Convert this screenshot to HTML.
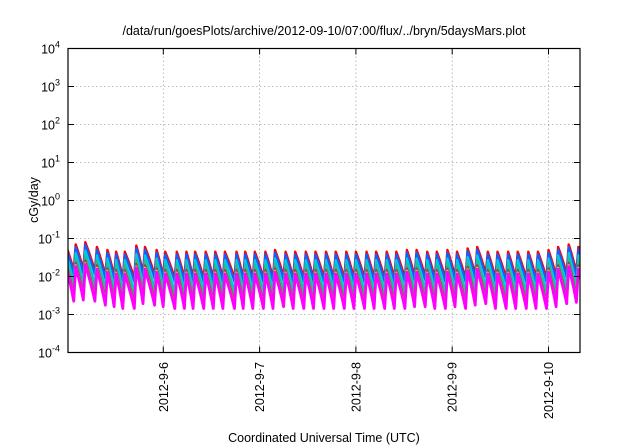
<!DOCTYPE html>
<html><head><meta charset="utf-8"><style>
body{margin:0;background:#fff;}
svg{display:block;font-family:"Liberation Sans",sans-serif;}
</style></head><body>
<svg id="chart" width="640" height="448" viewBox="0 0 640 448" xmlns="http://www.w3.org/2000/svg">
<rect width="640" height="448" fill="#fff"/>
<text x="324" y="35" font-size="12.5" text-anchor="middle">/data/run/goesPlots/archive/2012-09-10/07:00/flux/../bryn/5daysMars.plot</text>
<text x="324" y="442" font-size="12.5" text-anchor="middle">Coordinated Universal Time (UTC)</text>
<text transform="translate(38,200) rotate(-90)" font-size="12.5" text-anchor="middle">cGy/day</text>
<g id="grid"></g><g id="series"></g><g id="axes"></g>
</svg>
<script>
const xTickLabels=["2012-9-6","2012-9-7","2012-9-8","2012-9-9","2012-9-10"];
const xTickDays=[1,2,3,4,5];
const yTickExps=[-4,-3,-2,-1,0,1,2,3,4];
const peakTimes=[0.0,0.09,0.19,0.31,0.42,0.51,0.6,0.72,0.81,0.93,1.02,1.14,1.24,1.33,1.44,1.54,1.64,1.76,1.85,1.95,2.06,2.16,2.27,2.37,2.48,2.58,2.69,2.79,2.9,3.0,3.11,3.21,3.32,3.42,3.53,3.63,3.74,3.84,3.95,4.05,4.16,4.26,4.37,4.47,4.58,4.68,4.79,4.89,5.0,5.1,5.21,5.31];
const redPeaks=[0.055,0.07,0.08,0.06,0.05,0.045,0.045,0.065,0.06,0.05,0.045,0.045,0.045,0.045,0.045,0.045,0.045,0.045,0.045,0.045,0.045,0.05,0.045,0.045,0.045,0.045,0.045,0.045,0.045,0.045,0.045,0.045,0.045,0.045,0.05,0.05,0.045,0.045,0.05,0.045,0.055,0.06,0.045,0.045,0.045,0.045,0.045,0.045,0.05,0.06,0.07,0.06];
const redTroughs=[0.014,0.015,0.014,0.011,0.01,0.009,0.009,0.012,0.011,0.01,0.009,0.009,0.009,0.009,0.009,0.009,0.009,0.009,0.009,0.009,0.009,0.01,0.009,0.009,0.009,0.009,0.009,0.009,0.009,0.009,0.009,0.009,0.009,0.009,0.01,0.01,0.009,0.009,0.01,0.009,0.011,0.012,0.009,0.009,0.009,0.009,0.009,0.009,0.01,0.012,0.013,0.01];
const seriesNames=["red","blue","cyan","teal","brown","yellow","magenta"];
const seriesColors=["#ff0000","#1060ff","#00c8e8","#20c090","#a04060","#e8e000","#ff00ff"];
const seriesPeakScale=[1,0.85,0.6,0.45,0.33,0.28,0.26];
const seriesTroughScale=[1,0.8,0.45,0.33,0.22,0.18,0.16];
const seriesWidths=[2.4,2.2,2.2,2.2,2.2,2.2,2.8];

const L=68,R=580,T=48.5,B=352.5;
const xDay=d=>67+d*96.3;
const yLog=v=>B-(Math.log10(v)+4)*(B-T)/8;
const NS="http://www.w3.org/2000/svg";
function mk(tag,attrs,parent){const e=document.createElementNS(NS,tag);for(const k in attrs)e.setAttribute(k,attrs[k]);parent.appendChild(e);return e;}
const grid=document.getElementById('grid'),ser=document.getElementById('series'),ax=document.getElementById('axes');

yTickExps.forEach(e=>{
  const y=yLog(Math.pow(10,e));
  if(e>-4&&e<4){const g=mk('line',{x1:L,x2:R,y1:y,y2:y,stroke:'#aaa','stroke-width':0.8,'stroke-dasharray':'1.5,2.5'},grid);
  
  }
  const t1=mk('line',{x1:L,x2:L+6,y1:y,y2:y,stroke:'#000','stroke-width':1},ax);
  
  
  const t2=mk('line',{x1:R-6,x2:R,y1:y,y2:y,stroke:'#000','stroke-width':1},ax);
  
  
  const tx=mk('text',{x:60,y:y+5,'font-size':12.5,'text-anchor':'end'},ax);
  
  
  tx.appendChild(document.createTextNode('10'));
  const sp=mk('tspan',{dy:-6,'font-size':9},tx);sp.textContent=String(e);
});
xTickDays.forEach((d,i)=>{
  const x=xDay(d);
  const g=mk('line',{x1:x,x2:x,y1:T,y2:B,stroke:'#aaa','stroke-width':0.8,'stroke-dasharray':'1.5,2.5'},grid);
  
  
  const t1=mk('line',{x1:x,x2:x,y1:B,y2:B-6,stroke:'#000'},ax);
  
  
  const t2=mk('line',{x1:x,x2:x,y1:T,y2:T+6,stroke:'#000'},ax);
  
  
  const tx=mk('text',{transform:`translate(${x+4.5},${362}) rotate(-90)`,'font-size':12.5,'text-anchor':'end'},ax);
  
  
  tx.textContent=xTickLabels[i];
});
const clip=mk('clipPath',{id:'pc'},ser);mk('rect',{x:L,y:T,width:R-L,height:B-T},clip);
seriesNames.forEach((n,s)=>{
  let d='';
  for(let i=0;i<peakTimes.length;i++){
    const x0=xDay(peakTimes[i]);
    const pv=redPeaks[i]*seriesPeakScale[s], tv=redTroughs[i]*seriesTroughScale[s];
    d+=(i?'L':'M')+x0.toFixed(1)+','+yLog(pv).toFixed(1);
    const tn=i+1<peakTimes.length?peakTimes[i+1]:peakTimes[i]+0.1;
    const xm=xDay(peakTimes[i]+(tn-peakTimes[i])*0.5);
    const ym=yLog(Math.sqrt(pv*tv));
    d+='Q'+xm.toFixed(1)+','+(ym+1).toFixed(1)+' '+(xDay(tn)-2).toFixed(1)+','+yLog(tv).toFixed(1);
  }
  const p=mk('path',{d:d,fill:'none',stroke:seriesColors[s],'stroke-width':seriesWidths[s],'stroke-linejoin':'round','clip-path':'url(#pc)'},ser);
  
  
});
const fr=mk('rect',{x:L,y:T,width:R-L,height:B-T,fill:'none',stroke:'#000','stroke-width':1.2},ax);


</script>
</body></html>
